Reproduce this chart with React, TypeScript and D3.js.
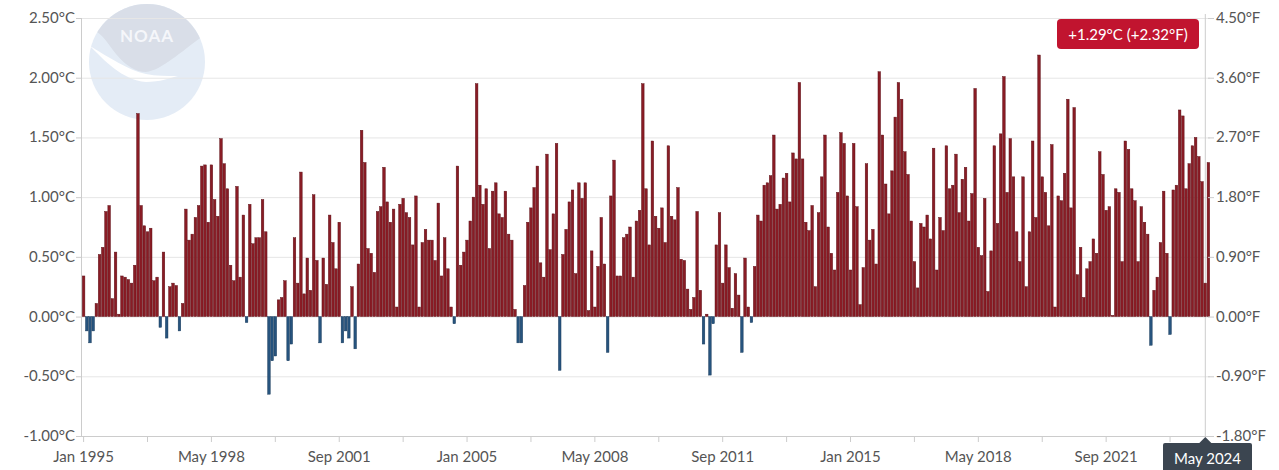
import { useEffect, useRef } from 'react'
import * as d3 from 'd3'

// Monthly temperature anomaly (°C), Jan 1995 .. May 2024
const anomalies: number[] = [
  0.34, -0.12, -0.22, -0.12, 0.11, 0.52, 0.58, 0.88, 0.93, 0.15,
  0.54, 0.02, 0.34, 0.33, 0.31, 0.28, 0.43, 1.70, 0.93, 0.76,
  0.71, 0.74, 0.30, 0.33, -0.09, 0.54, -0.18, 0.25, 0.28, 0.26,
  -0.12, 0.11, 0.90, 0.64, 0.69, 0.83, 0.93, 1.26, 1.27,
  0.79, 1.27, 0.98, 0.84, 1.49, 1.28, 1.07, 0.43, 0.30, 1.09,
  0.33, 0.85, -0.05, 0.94, 0.61, 0.66, 0.66, 0.98, 0.71, -0.65,
  -0.37, -0.33, 0.14, 0.16, 0.30, -0.37, -0.23, 0.66, 0.28, 1.21,
  0.19, 0.49, 0.22, 1.02, 0.47, -0.22, 0.49, 0.27, 0.85, 0.62,
  0.40, 0.79, -0.22, -0.12, -0.18, 0.25, -0.27, 0.44, 1.56, 1.29,
  0.57, 0.53, 0.37, 0.88, 0.92, 1.25, 0.96, 0.79, 0.90, 0.08,
  0.94, 0.99, 0.87, 0.83, 0.60, 1.01, 0.08, 0.62, 0.73, 0.64,
  0.64, 0.47, 0.95, 0.34, 0.66, 0.40, 0.08, -0.06, 1.26, 0.43,
  0.54, 0.64, 0.80, 1.00, 1.95, 1.10, 0.94, 1.07, 0.57, 1.05,
  1.12, 0.86, 0.83, 1.05, 0.69, 0.64, 0.06, -0.22, -0.22, 0.26,
  0.79, 0.91, 1.08, 1.26, 0.45, 0.33, 1.36, 0.56, 0.86, 1.45,
  -0.45, 0.52, 0.73, 0.96, 1.06, 0.36, 1.12, 0.99, 1.12, 0.05,
  0.55, 0.08, 0.42, 0.83, 0.44, -0.30, 1.01, 1.31, 0.34, 0.34,
  0.66, 0.69, 0.75, 0.33, 0.80, 0.89, 1.95, 1.07, 0.60, 1.47,
  0.84, 0.74, 0.91, 0.62, 1.43, 0.84, 0.81, 1.08, 0.48, 0.47,
  0.23, 0.06, 0.16, 0.88, 0.22, -0.23, 0.02, -0.49, -0.06, 0.60,
  0.87, 0.28, 0.60, 0.41, 0.07, 0.36, 0.18, -0.30, 0.49, 0.08,
  -0.05, 0.42, 0.85, 0.80, 1.10, 1.12, 1.18, 1.52, 0.90, 0.94,
  1.16, 1.20, 0.96, 1.37, 1.32, 1.96, 1.32, 0.79, 0.72, 0.93,
  0.25, 0.87, 1.17, 1.52, 0.75, 0.53, 0.39, 1.04,
  1.54, 1.45, 1.01, 0.39, 1.45, 0.92, 0.10, 0.41, 1.28, 0.64,
  0.73, 0.44, 2.05, 1.52, 1.11, 0.86, 1.22, 1.67, 1.96, 1.82,
  1.38, 1.19, 0.80, 0.46, 0.24, 0.78, 0.75, 0.85, 0.65, 1.41,
  0.39, 0.83, 0.72, 1.43, 1.07, 1.10, 1.36, 0.87, 1.15, 1.25,
  0.80, 1.03, 1.91, 0.58, 0.51, 0.99, 0.21, 0.55, 1.43, 0.78,
  1.53, 2.01, 1.04, 1.49, 1.17, 0.71, 0.46, 1.17, 0.25, 0.71,
  1.47, 0.83, 2.19, 1.17, 1.04, 0.76, 1.44, 0.08, 1.01, 0.97,
  1.20, 1.82, 0.91, 1.75, 0.35, 0.58, 0.16,
  0.40, 0.46, 0.65, 0.53, 1.38, 1.19, 0.89, 0.92, 0.01, 1.07,
  1.04, 0.46, 1.47, 1.40, 1.07, 0.97, 0.46, 0.92, 0.79, 0.69,
  -0.24, 0.22, 0.33, 0.62, 1.05, 0.53, -0.15, 1.06, 1.10, 1.73,
  1.68, 1.07, 1.28, 1.43, 1.50, 1.34, 1.13, 0.28, 1.29,
]

const MONTHS = ['Jan', 'Feb', 'Mar', 'Apr', 'May', 'Jun', 'Jul', 'Aug', 'Sep', 'Oct', 'Nov', 'Dec']
const START_YEAR = 1995
const categories = anomalies.map((_, i) => `${MONTHS[i % 12]} ${START_YEAR + Math.floor(i / 12)}`)

const xTickLabels = ['Jan 1995', 'May 1998', 'Sep 2001', 'Jan 2005', 'May 2008', 'Sep 2011', 'Jan 2015', 'May 2018', 'Sep 2021']
const TICK_EVERY = 20
const yTicksC = [-1, -0.5, 0, 0.5, 1, 1.5, 2, 2.5]
const yTicksF = [-1.8, -0.9, 0, 0.9, 1.8, 2.7, 3.6, 4.5]
const latestLabel = '+1.29°C (+2.32°F)'

const FONT = "Lato, 'Open Sans', sans-serif"

export default function App() {
  const svgRef = useRef<SVGSVGElement>(null)

  useEffect(() => {
    if (!svgRef.current) return
    const svg = d3.select(svgRef.current)
    svg.selectAll('*').remove()

    const plot = { left: 82, right: 1210, top: 18, bottom: 436 }

    const x = d3.scaleBand<string>()
      .domain(categories)
      .range([plot.left, plot.right])
      .padding(0)
    const y = d3.scaleLinear().domain([-1, 2.5]).range([plot.bottom, plot.top])
    const yF = d3.scaleLinear().domain([-1.8, 4.5]).range([plot.bottom, plot.top])
    const bw = x.bandwidth()
    const cx = (c: string) => (x(c) as number) + bw / 2

    svg.append('rect').attr('width', 1279).attr('height', 470).attr('fill', '#fff')

    // NOAA logo watermark
    const logo = svg.append('g').attr('opacity', 0.9)
    const defs = svg.append('defs')
    defs.append('clipPath').attr('id', 'logo-clip')
      .append('circle').attr('cx', 147).attr('cy', 62).attr('r', 58)
    logo.append('circle').attr('cx', 147).attr('cy', 62).attr('r', 58).attr('fill', '#e2ebf6')
    const lg = logo.append('g').attr('clip-path', 'url(#logo-clip)')
    lg.append('path')
      .attr('d', 'M80,0 L80,30 C96,24 104,38 116,54 C126,66 136,72 146,72 C162,70 180,52 206,34 L206,0 Z')
      .attr('fill', '#d5dbe6')
    lg.append('path')
      .attr('d', 'M90,46 C104,60 122,80 146,82 C160,82 170,78 178,76 C166,76 156,76 146,74 C128,70 110,58 90,46 Z')
      .attr('fill', '#ffffff')
    logo.append('text')
      .attr('x', 147).attr('y', 42)
      .attr('text-anchor', 'middle')
      .attr('font-family', FONT).attr('font-weight', 700)
      .attr('font-size', 17).attr('letter-spacing', 1)
      .attr('fill', '#f4f6fa')
      .text('NOAA')

    // Grid lines
    svg.selectAll('.grid')
      .data(yTicksC.filter(d => d > -1))
      .join('line')
      .attr('x1', plot.left).attr('x2', plot.right)
      .attr('y1', d => y(d) + 0.5).attr('y2', d => y(d) + 0.5)
      .attr('stroke', '#e6e6e6').attr('stroke-width', 1)

    // Crosshair at latest month
    const last = categories[categories.length - 1]
    const chX = (x(last) as number) - 1.5
    svg.append('line')
      .attr('x1', chX).attr('x2', chX)
      .attr('y1', plot.top - 4).attr('y2', plot.bottom)
      .attr('stroke', '#cccccc').attr('stroke-width', 1)

    // Bars
    svg.selectAll('.bar')
      .data(anomalies.map((v, i) => ({ v, c: categories[i] })))
      .join('rect')
      .attr('x', d => (x(d.c) as number) + 0.3)
      .attr('width', bw - 0.6)
      .attr('y', d => y(Math.max(0, d.v)))
      .attr('height', d => Math.abs(y(d.v) - y(0)))
      .attr('fill', d => d.v >= 0 ? '#891c25' : '#27547e')
      .attr('stroke', d => d.v >= 0 ? '#5a0e15' : '#163757')
      .attr('stroke-width', 0.45)

    // Axis lines
    svg.append('line')
      .attr('x1', plot.left).attr('x2', plot.right)
      .attr('y1', plot.bottom + 0.5).attr('y2', plot.bottom + 0.5)
      .attr('stroke', '#cccccc')
    svg.append('line')
      .attr('x1', plot.left - 0.5).attr('x2', plot.left - 0.5)
      .attr('y1', plot.top).attr('y2', plot.bottom)
      .attr('stroke', '#cccccc')

    // X ticks
    svg.selectAll('.xtick')
      .data(categories.filter((_, i) => i % TICK_EVERY === 0))
      .join('line')
      .attr('x1', d => cx(d)).attr('x2', d => cx(d))
      .attr('y1', plot.bottom).attr('y2', plot.bottom + 6)
      .attr('stroke', '#cccccc')

    svg.selectAll('.xlabel')
      .data(xTickLabels)
      .join('text')
      .attr('x', d => cx(d))
      .attr('y', 462)
      .attr('text-anchor', 'middle')
      .attr('font-family', FONT).attr('font-size', 15)
      .attr('fill', '#555')
      .text(d => d)

    // Left axis (°C)
    svg.selectAll('.ytickL')
      .data(yTicksC)
      .join('line')
      .attr('x1', plot.left - 6).attr('x2', plot.left)
      .attr('y1', d => y(d) + 0.5).attr('y2', d => y(d) + 0.5)
      .attr('stroke', '#cccccc')
    svg.selectAll('.ylabelL')
      .data(yTicksC)
      .join('text')
      .attr('x', 75)
      .attr('y', d => y(d) + 5)
      .attr('text-anchor', 'end')
      .attr('font-family', FONT).attr('font-size', 15)
      .attr('fill', '#555')
      .text(d => `${d.toFixed(2)}°C`)

    // Right axis (°F)
    svg.selectAll('.ytickR')
      .data(yTicksF)
      .join('line')
      .attr('x1', plot.right - 2).attr('x2', plot.right + 4)
      .attr('y1', d => yF(d) + 0.5).attr('y2', d => yF(d) + 0.5)
      .attr('stroke', '#cccccc')
    svg.selectAll('.ylabelR')
      .data(yTicksF)
      .join('text')
      .attr('x', 1216)
      .attr('y', d => yF(d) + 5)
      .attr('text-anchor', 'start')
      .attr('font-family', FONT).attr('font-size', 15)
      .attr('fill', '#555')
      .text(d => `${d.toFixed(2)}°F`)

    // Latest value badge
    const badge = svg.append('g')
    badge.append('rect')
      .attr('x', 1057).attr('y', 19).attr('width', 142).attr('height', 30)
      .attr('rx', 4).attr('fill', '#c1142f')
    badge.append('text')
      .attr('x', 1128).attr('y', 39.5)
      .attr('text-anchor', 'middle')
      .attr('font-family', FONT).attr('font-size', 15)
      .attr('fill', '#fff')
      .text(latestLabel)

    // Crosshair label on x axis
    const cl = svg.append('g')
    cl.append('path')
      .attr('d', `M${chX - 6},443 L${chX},437 L${chX + 6},443 Z`)
      .attr('fill', '#3b4550')
    cl.append('rect')
      .attr('x', 1163).attr('y', 443).attr('width', 89).attr('height', 30)
      .attr('rx', 2).attr('fill', '#3b4550')
    cl.append('text')
      .attr('x', 1207.5).attr('y', 464)
      .attr('text-anchor', 'middle')
      .attr('font-family', FONT).attr('font-size', 15)
      .attr('fill', '#fff')
      .text(last)
  }, [])

  return (
    <svg
      ref={svgRef}
      width={1279}
      height={470}
      style={{ position: 'absolute', left: 0, top: 0, display: 'block' }}
    />
  )
}
